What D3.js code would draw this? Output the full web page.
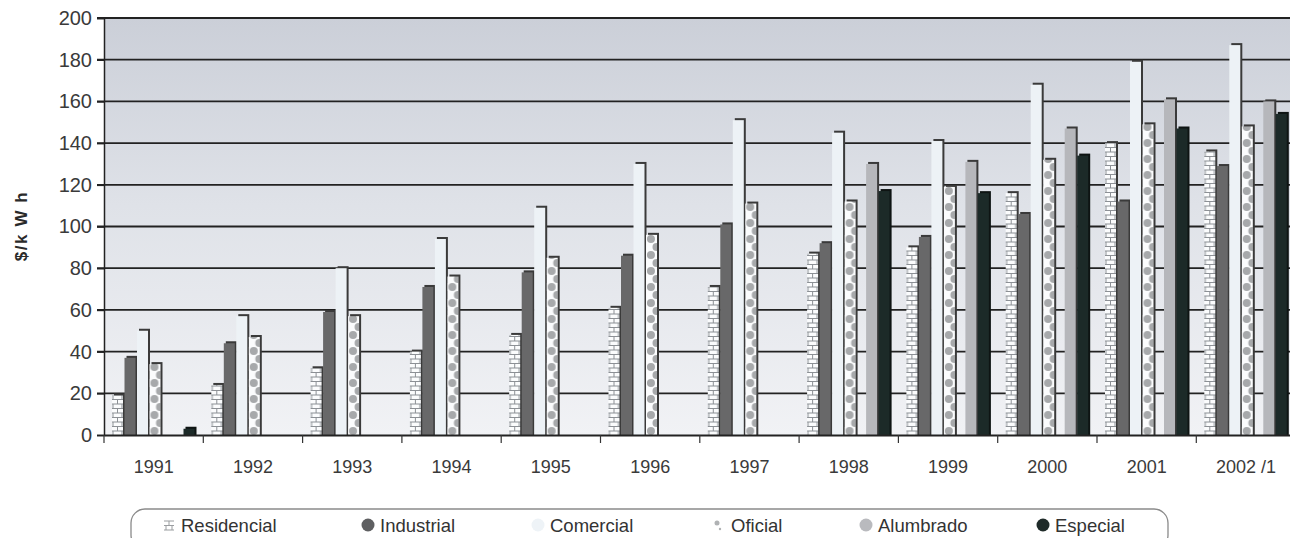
<!DOCTYPE html>
<html><head><meta charset="utf-8">
<script src="https://cdn.jsdelivr.net/npm/d3@7"></script>
<style>
html,body{margin:0;padding:0;background:#fff;}
svg{display:block;font-family:"Liberation Sans",Arial,sans-serif;}
</style></head>
<body><svg id="c" width="1290" height="538"></svg>
<script>
const categories = ["1991","1992","1993","1994","1995","1996","1997","1998","1999","2000","2001","2002 /1"];
const seriesNames = ["Residencial","Industrial","Comercial","Oficial","Alumbrado","Especial"];
const residencial = [19,24,32,40,48,61,71,87,90,116,140,136];
const industrial  = [37,44,59,71,78,86,101,92,95,106,112,129];
const comercial   = [50,57,80,94,109,130,151,145,141,168,179,187];
const oficial     = [34,47,57,76,85,96,111,112,119,132,149,148];
const alumbrado   = [0,0,0,0,0,0,0,130,131,147,161,160];
const especial    = [3,0,0,0,0,0,0,117,116,134,147,154];
const yTicks = [0,20,40,60,80,100,120,140,160,180,200];
const seriesValues = [residencial,industrial,comercial,oficial,alumbrado,especial];

const svg = d3.select("#c");
const defs = svg.append("defs");
const grad = defs.append("linearGradient").attr("id","bg").attr("x1",0).attr("y1",0).attr("x2",0).attr("y2",1);
grad.append("stop").attr("offset","0%").attr("stop-color","#cbcfd8");
grad.append("stop").attr("offset","45%").attr("stop-color","#dfe2e8");
grad.append("stop").attr("offset","100%").attr("stop-color","#f1f2f5");

const fills = [null,"#686869","#edf2f6",null,"#b6b7bb","#1c2a28"];

const plotLeft = 104, plotTop = 18, plotBottom = 435;
const groupW = 99.3;
const gap = 9;
const x0 = d3.scaleBand().domain(categories).range([plotLeft, plotLeft + groupW*categories.length]).padding(0);
const x1 = d3.scaleBand().domain(seriesNames).range([8, 83]).padding(0);
const y = d3.scaleLinear().domain([0,200]).range([plotBottom, plotTop]);

// plot background
svg.append("rect").attr("x",plotLeft).attr("y",plotTop).attr("width",1290-plotLeft).attr("height",plotBottom-plotTop).attr("fill","url(#bg)");

// gridlines
svg.append("g").selectAll("line").data(yTicks.filter(d=>d>0)).join("line")
  .attr("x1",97).attr("x2",1290).attr("y1",d=>y(d)).attr("y2",d=>y(d))
  .attr("stroke","#222").attr("stroke-width",1.8);

// bars
let pid = 0;
categories.forEach((cat, ci)=>{
  const g = svg.append("g");
  seriesNames.forEach((s, si)=>{
    const v = seriesValues[si][ci];
    if (!v) return;
    const bx = x0(cat) + x1(s) + (si >= 4 ? gap : 0);
    const bw = x1.bandwidth() - 1.5;
    let fill = fills[si];
    if (si === 0) {
      const id = "brick" + (pid++);
      const p = defs.append("pattern").attr("id",id).attr("patternUnits","userSpaceOnUse")
        .attr("x",bx).attr("y",plotBottom).attr("width",bw).attr("height",9);
      p.append("rect").attr("width",bw).attr("height",9).attr("fill","#fbfcfd");
      p.append("path").attr("d",`M0,0.5H${bw}M0,5H${bw}M${bw*0.5},0.5V5M1,5V9.5M${bw-1},5V9.5`)
        .attr("stroke","#8c9095").attr("stroke-width",1).attr("fill","none");
      fill = `url(#${id})`;
    } else if (si === 3) {
      const id = "dots" + (pid++);
      const p = defs.append("pattern").attr("id",id).attr("patternUnits","userSpaceOnUse")
        .attr("x",bx).attr("y",plotBottom).attr("width",bw).attr("height",16);
      p.append("rect").attr("width",bw).attr("height",16).attr("fill","#fbfcfd");
      p.append("circle").attr("cx",bw-0.5).attr("cy",4).attr("r",4).attr("fill","#a7a9ab");
      p.append("circle").attr("cx",bw*0.45).attr("cy",12).attr("r",4).attr("fill","#a7a9ab");
      fill = `url(#${id})`;
    }
    g.append("rect").attr("x",bx+2).attr("y",y(v)-2).attr("width",bw).attr("height",plotBottom-y(v)+2)
      .attr("fill", si===5 ? "#0e1413" : "#3a3a3a");
    g.append("rect").attr("x",bx).attr("y",y(v)).attr("width",bw).attr("height",plotBottom-y(v))
      .attr("fill",fill);
  });
});

// y axis
const yAxis = svg.append("g").attr("transform",`translate(${plotLeft},0)`)
  .call(d3.axisLeft(y).tickValues(yTicks).tickSize(7).tickPadding(5));
yAxis.select(".domain").attr("stroke","#222").attr("stroke-width",1.5);
yAxis.selectAll(".tick line").attr("stroke","#222").attr("stroke-width",1.6);
yAxis.selectAll("text").attr("font-size",20).attr("fill","#3a3a3a").attr("font-family","Liberation Sans, Arial, sans-serif");

// x axis
const xAxis = svg.append("g").attr("transform",`translate(0,${plotBottom})`)
  .call(d3.axisBottom(x0).tickSize(0).tickPadding(25));
xAxis.select(".domain").attr("stroke","#222").attr("stroke-width",1.8);
xAxis.selectAll("text").attr("font-size",18).attr("fill","#3a3a3a").attr("font-family","Liberation Sans, Arial, sans-serif");
// group boundary ticks
svg.append("g").selectAll("line").data(categories).join("line")
  .attr("x1",d=>x0(d)).attr("x2",d=>x0(d)).attr("y1",plotBottom).attr("y2",plotBottom+8)
  .attr("stroke","#333").attr("stroke-width",1.2);

// y title
svg.append("text").attr("transform","translate(27,226) rotate(-90)").attr("text-anchor","middle")
  .attr("font-size",17).attr("font-weight","bold").attr("letter-spacing",1.6).attr("fill","#2a2a2a").text("$/k W h");

// legend
svg.append("rect").attr("x",131).attr("y",509).attr("width",1037).attr("height",40).attr("rx",14)
  .attr("fill","#fff").attr("stroke","#8a8a8a").attr("stroke-width",1.3);
const legX = [169,368,538,719,866,1043];
const legColors = ["#b0b3b6","#5e5f61","#eef3f7","#a9abad","#b9babe","#1f2b29"];
const leg = svg.append("g").selectAll("g").data(seriesNames).join("g")
  .attr("transform",(d,i)=>`translate(${legX[i]},525)`);
leg.each(function(d,i){
  const g = d3.select(this);
  if (i===0) {
    g.append("path").attr("d","M-5,-4H5M-5,0.5H5M-5,5H5M0,-4V0.5M-3,0.5V5M3,0.5V5").attr("stroke","#9a9da0").attr("stroke-width",1).attr("fill","none");
  } else if (i===3) {
    g.append("circle").attr("cx",-2).attr("cy",-2).attr("r",2.5).attr("fill","#b0b2b4");
    g.append("circle").attr("cx",1).attr("cy",4).attr("r",1.2).attr("fill","#b0b2b4");
  } else {
    g.append("circle").attr("r",6.5).attr("fill",legColors[i]);
  }
  g.append("text").attr("x", 12).attr("y",7).attr("font-size",18.5).attr("fill","#333")
    .attr("font-family","Liberation Sans, Arial, sans-serif").text(d);
});
</script></body></html>
